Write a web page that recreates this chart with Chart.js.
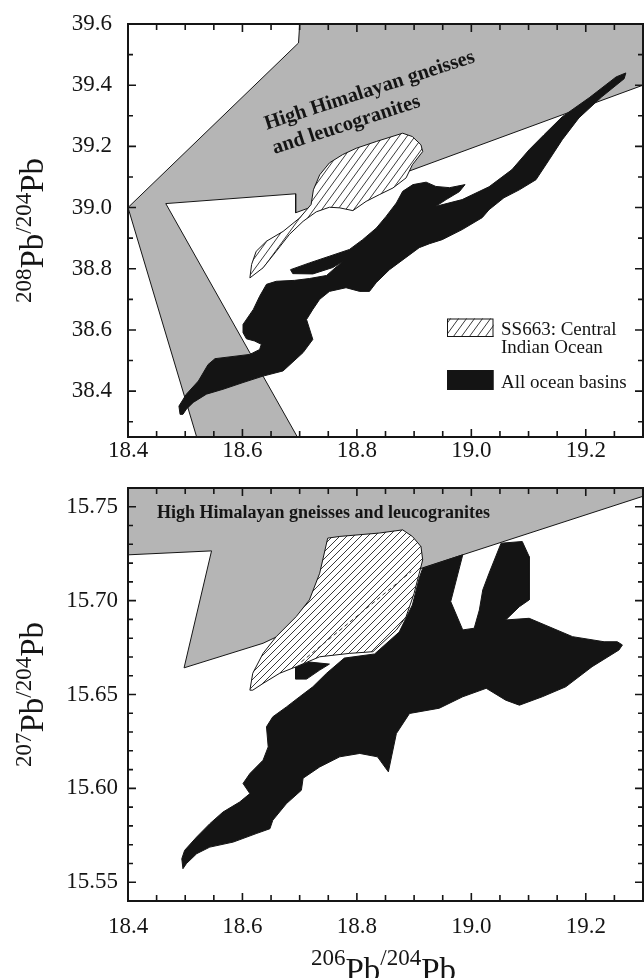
<!DOCTYPE html>
<html>
<head>
<meta charset="utf-8">
<script src="https://cdn.jsdelivr.net/npm/chart.js@4.4.1/dist/chart.umd.min.js"></script>
<style>
  html, body { margin: 0; padding: 0; background: #fff; width: 644px; height: 978px; overflow: hidden; }
  canvas { position: absolute; left: 0; }
  #pb208 { top: -8px; width: 644px; height: 488px; }
  #pb207 { top: 456px; width: 644px; height: 522px; }
</style>
</head>
<body>
<canvas id="pb208" width="644" height="488"></canvas>
<canvas id="pb207" width="644" height="522"></canvas>
<script>
const SERIF = '"Liberation Serif", "Times New Roman", Times, serif';
const INK = '#151515';

// ---- axis ticks ----
const pb206Ticks = [18.4, 18.6, 18.8, 19.0, 19.2];
const pb208Ticks = [38.4, 38.6, 38.8, 39.0, 39.2, 39.4, 39.6];
const pb207Ticks = [15.55, 15.60, 15.65, 15.70, 15.75];

// ---- 208Pb/204Pb vs 206Pb/204Pb : field outlines [206Pb/204Pb, 208Pb/204Pb] ----
const himalaya208 = [
  [18.700, 39.600], [18.698, 39.538], [18.400, 39.000], [18.520, 38.250], [18.696, 38.250],
  [18.466, 39.013], [18.693, 39.045], [18.693, 38.983], [19.300, 39.400], [19.300, 39.600]
];
const ss663_208 = [
  [18.613, 38.770], [18.616, 38.814], [18.624, 38.857], [18.642, 38.890], [18.671, 38.922],
  [18.700, 38.966], [18.720, 39.010], [18.724, 39.058], [18.735, 39.107], [18.752, 39.146],
  [18.775, 39.173], [18.799, 39.194], [18.834, 39.216], [18.880, 39.243], [18.897, 39.232],
  [18.912, 39.205], [18.915, 39.183], [18.897, 39.140], [18.886, 39.097], [18.863, 39.064],
  [18.839, 39.042], [18.816, 39.020], [18.793, 38.990], [18.770, 38.999], [18.752, 39.001],
  [18.729, 38.986], [18.706, 38.955], [18.682, 38.912], [18.659, 38.857], [18.636, 38.803]
];
const oceans208 = [
  [18.491, 38.324], [18.489, 38.351], [18.502, 38.390], [18.523, 38.433], [18.540, 38.487],
  [18.552, 38.506], [18.613, 38.520], [18.630, 38.536], [18.633, 38.553], [18.621, 38.564],
  [18.607, 38.571], [18.601, 38.591], [18.601, 38.618], [18.619, 38.667], [18.630, 38.710],
  [18.642, 38.749], [18.659, 38.759], [18.691, 38.762], [18.717, 38.768], [18.747, 38.778],
  [18.775, 38.824], [18.758, 38.804], [18.723, 38.783], [18.688, 38.784], [18.684, 38.797],
  [18.717, 38.819], [18.752, 38.841], [18.787, 38.863], [18.810, 38.895], [18.834, 38.933],
  [18.851, 38.971], [18.869, 39.015], [18.880, 39.053], [18.898, 39.075], [18.921, 39.083],
  [18.938, 39.069], [18.962, 39.065], [18.989, 39.075], [18.979, 39.052], [18.956, 39.026],
  [18.938, 39.004], [18.984, 39.026], [19.031, 39.068], [19.071, 39.124], [19.101, 39.189],
  [19.127, 39.238], [19.159, 39.297], [19.206, 39.359], [19.253, 39.427], [19.270, 39.440],
  [19.267, 39.421], [19.228, 39.362], [19.188, 39.293], [19.159, 39.222], [19.136, 39.156],
  [19.113, 39.091], [19.084, 39.058], [19.057, 39.032], [19.031, 38.993], [19.019, 38.967],
  [18.984, 38.928], [18.949, 38.895], [18.927, 38.882], [18.909, 38.869], [18.857, 38.797],
  [18.834, 38.755], [18.822, 38.726], [18.805, 38.726], [18.781, 38.738], [18.752, 38.726],
  [18.735, 38.700], [18.723, 38.667], [18.712, 38.634], [18.723, 38.569], [18.706, 38.526],
  [18.671, 38.466], [18.636, 38.449], [18.601, 38.428], [18.566, 38.406], [18.537, 38.390],
  [18.514, 38.363], [18.502, 38.341], [18.496, 38.324]
];

// ---- 207Pb/204Pb vs 206Pb/204Pb : field outlines [206Pb/204Pb, 207Pb/204Pb] ----
const himalaya207 = [
  [18.400, 15.7600], [18.400, 15.7244], [18.546, 15.7265], [18.498, 15.6642],
  [18.636, 15.6773], [18.914, 15.7174], [19.300, 15.7556], [19.300, 15.7600]
];
const ss663_207 = [
  [18.613, 15.6523], [18.618, 15.6613], [18.636, 15.6719], [18.659, 15.6808], [18.694, 15.6915],
  [18.717, 15.7004], [18.735, 15.7146], [18.749, 15.7333], [18.770, 15.7342], [18.839, 15.7360],
  [18.880, 15.7377], [18.897, 15.7342], [18.912, 15.7288], [18.915, 15.7217], [18.909, 15.7146],
  [18.900, 15.7039], [18.886, 15.6915], [18.869, 15.6844], [18.828, 15.6728], [18.787, 15.6719],
  [18.735, 15.6701], [18.694, 15.6648], [18.665, 15.6613], [18.636, 15.6559], [18.618, 15.6523]
];
const oceans207 = [
  [18.496, 15.5572], [18.494, 15.5625], [18.499, 15.5670], [18.520, 15.5741], [18.543, 15.5812],
  [18.566, 15.5874], [18.595, 15.5927], [18.613, 15.5972], [18.601, 15.6026], [18.613, 15.6079],
  [18.636, 15.6150], [18.645, 15.6221], [18.642, 15.6328], [18.653, 15.6381], [18.677, 15.6434],
  [18.700, 15.6488], [18.723, 15.6541], [18.747, 15.6613], [18.778, 15.6694], [18.831, 15.6716],
  [18.874, 15.6833], [18.897, 15.6977], [18.909, 15.7121], [18.915, 15.7173], [18.985, 15.7244],
  [18.964, 15.6995], [18.985, 15.6844], [19.005, 15.6853], [19.014, 15.6950], [19.020, 15.7057],
  [19.031, 15.7146], [19.052, 15.7306], [19.089, 15.7315], [19.101, 15.7235], [19.101, 15.7004],
  [19.084, 15.6968], [19.060, 15.6897], [19.101, 15.6906], [19.177, 15.6808], [19.232, 15.6781],
  [19.255, 15.6781], [19.264, 15.6764], [19.258, 15.6737], [19.211, 15.6648], [19.165, 15.6541],
  [19.124, 15.6488], [19.084, 15.6443], [19.060, 15.6470], [19.026, 15.6533], [18.985, 15.6488],
  [18.944, 15.6427], [18.892, 15.6399], [18.869, 15.6292], [18.855, 15.6088], [18.836, 15.6168],
  [18.805, 15.6186], [18.770, 15.6168], [18.735, 15.6114], [18.706, 15.6054], [18.703, 15.5990],
  [18.677, 15.5919], [18.653, 15.5830], [18.648, 15.5785], [18.624, 15.5759], [18.584, 15.5714],
  [18.543, 15.5687], [18.520, 15.5652], [18.502, 15.5599]
];
const oceans207Patch = [
  [18.693, 15.6646], [18.693, 15.6582], [18.712, 15.6582], [18.735, 15.6630], [18.752, 15.6662], [18.717, 15.6673]
];
const ss663Trend207 = [[18.703, 15.6674], [18.895, 15.7155]];

// ---- helpers ----
function closedPath(pts) {
  const d = pts.map(p => ({ x: p[0], y: p[1] }));
  d.push({ x: pts[0][0], y: pts[0][1] });
  return d;
}

function hatchPattern(w, h, color) {
  const c = document.createElement('canvas');
  c.width = w; c.height = h;
  const g = c.getContext('2d');
  g.fillStyle = '#fff';
  g.fillRect(0, 0, w, h);
  g.strokeStyle = color;
  g.lineWidth = 1;
  g.beginPath();
  for (const dx of [-w, 0, w]) { g.moveTo(dx - w, 2 * h); g.lineTo(dx + 2 * w, -h); }
  g.stroke();
  return g.createPattern(c, 'repeat');
}

function field(label, pts, fillStyle, stroke, width, order, extra) {
  return Object.assign({
    label, data: closedPath(pts), backgroundColor: fillStyle, borderColor: stroke,
    borderWidth: width, fill: 'shape', pointRadius: 0, pointHoverRadius: 0, tension: 0, order
  }, extra || {});
}

function steps(min, max, step) {
  const out = [];
  const k0 = Math.ceil(min / step - 1e-6), k1 = Math.floor(max / step + 1e-6);
  for (let k = k0; k <= k1; k++) out.push(+(k * step).toFixed(6));
  return out;
}

function isOn(v, list) { return list.some(t => Math.abs(t - v) < 1e-6); }

// inward ticks on all four sides plus the closed frame
function frameTicks(xStep, yStep, xMajor, yMajor) {
  return {
    id: 'frameTicks',
    afterDatasetsDraw(chart) {
      const { ctx, chartArea: a, scales: { x, y } } = chart;
      ctx.save();
      ctx.strokeStyle = INK;
      ctx.lineWidth = 1.6;
      ctx.beginPath();
      for (const v of steps(x.min, x.max, xStep)) {
        const p = x.getPixelForValue(v), len = isOn(v, xMajor) ? 8 : 6;
        ctx.moveTo(p, a.bottom); ctx.lineTo(p, a.bottom - len);
        ctx.moveTo(p, a.top); ctx.lineTo(p, a.top + len);
      }
      for (const v of steps(y.min, y.max, yStep)) {
        const p = y.getPixelForValue(v), len = isOn(v, yMajor) ? 8 : 5;
        ctx.moveTo(a.left, p); ctx.lineTo(a.left + len, p);
        ctx.moveTo(a.right, p); ctx.lineTo(a.right - len, p);
      }
      ctx.stroke();
      ctx.lineWidth = 2;
      ctx.strokeRect(a.left, a.top, a.right - a.left, a.bottom - a.top);
      ctx.restore();
    }
  };
}

function isotopeTitle(ctx, supA, supB, cx, cy, vertical, raise) {
  const big = '33px ' + SERIF, small = '23px ' + SERIF;
  const parts = [[supA, small, raise], ['Pb', big, 0], ['/' + supB, small, raise], ['Pb', big, 0]];
  ctx.save();
  ctx.fillStyle = INK;
  ctx.textAlign = 'left';
  ctx.textBaseline = 'alphabetic';
  let total = 0;
  for (const p of parts) { ctx.font = p[1]; total += ctx.measureText(p[0]).width; }
  ctx.translate(cx, cy);
  if (vertical) ctx.rotate(-Math.PI / 2);
  let x = -total / 2;
  for (const p of parts) { ctx.font = p[1]; ctx.fillText(p[0], x, -p[2]); x += ctx.measureText(p[0]).width; }
  ctx.restore();
}

function notePlugin(lines, at, angleDeg, font, lineHeight) {
  return {
    id: 'fieldNote',
    afterDatasetsDraw(chart) {
      const { ctx, scales: { x, y } } = chart;
      ctx.save();
      ctx.translate(x.getPixelForValue(at[0]), y.getPixelForValue(at[1]));
      ctx.rotate(angleDeg * Math.PI / 180);
      ctx.font = font;
      ctx.fillStyle = INK;
      ctx.textAlign = 'left';
      ctx.textBaseline = 'alphabetic';
      lines.forEach((t, i) => ctx.fillText(t, 0, i * lineHeight));
      ctx.restore();
    }
  };
}

function axisTitlePlugin(ySup, xTitle) {
  return {
    id: 'axisTitles',
    afterDraw(chart) {
      const { ctx, chartArea: a } = chart;
      isotopeTitle(ctx, ySup, '204', 43, (a.top + a.bottom) / 2, true, 12);
      if (xTitle) isotopeTitle(ctx, '206', '204', (a.left + a.right) / 2 - 2, chart.height + 3, false, 16);
    }
  };
}

const legendPlugin = {
  id: 'boxLegend',
  afterDatasetsDraw(chart) {
    const { ctx, chartArea: a } = chart;
    const entries = chart.data.datasets.filter(d => d.legendLines);
    const boxX = a.left + 319, textX = a.left + 373;
    const rows = [{ top: a.top + 294.5, h: 18.5, base: 311 }, { top: a.top + 346, h: 20, base: 364 }];
    ctx.save();
    entries.forEach((d, i) => {
      const r = rows[i];
      ctx.fillStyle = d.backgroundColor;
      ctx.fillRect(boxX, r.top, 46.5, r.h);
      ctx.lineWidth = 1;
      ctx.strokeStyle = INK;
      ctx.strokeRect(boxX + 0.5, r.top + 0.5, 45.5, r.h - 1);
      ctx.fillStyle = INK;
      ctx.font = '19px ' + SERIF;
      ctx.textAlign = 'left';
      ctx.textBaseline = 'alphabetic';
      d.legendLines.forEach((t, j) => ctx.fillText(t, textX, a.top + r.base + j * 18));
    });
    ctx.restore();
  }
};

function scalesFor(yMin, yMax, yTicks, yDigits, yPad, xPad, xHeight) {
  const tickFont = { family: SERIF, size: 23 };
  return {
    x: {
      type: 'linear', min: 18.4, max: 19.3,
      afterBuildTicks: s => { s.ticks = pb206Ticks.map(v => ({ value: v })); },
      afterFit: s => { s.height = xHeight; },
      ticks: { font: tickFont, color: INK, padding: xPad, maxRotation: 0, autoSkip: false,
               callback: v => Number(v).toFixed(1) },
      grid: { display: false, drawTicks: false },
      border: { display: false }
    },
    y: {
      type: 'linear', min: yMin, max: yMax,
      afterBuildTicks: s => { s.ticks = yTicks.map(v => ({ value: v })); },
      afterFit: s => { s.width = 128; },
      ticks: { font: tickFont, color: INK, padding: yPad, autoSkip: false,
               callback: v => Number(v).toFixed(yDigits) },
      grid: { display: false, drawTicks: false },
      border: { display: false }
    }
  };
}

const baseOptions = {
  responsive: false,
  animation: false,
  events: [],
  plugins: { legend: { display: false }, tooltip: { enabled: false } },
  elements: { line: { borderJoinStyle: 'miter' } }
};

// ---- upper panel: 208Pb/204Pb ----
const hatch208 = hatchPattern(8, 11, '#3a3a3a');
new Chart(document.getElementById('pb208'), {
  type: 'line',
  data: {
    datasets: [
      field('SS663: Central Indian Ocean', ss663_208, hatch208, INK, 1, 1,
            { legendLines: ['SS663: Central', 'Indian Ocean'] }),
      field('All ocean basins', oceans208, '#141414', '#141414', 1, 2,
            { legendLines: ['All ocean basins'] }),
      field('High Himalayan gneisses and leucogranites', himalaya208, '#b5b5b5', INK, 1, 3)
    ]
  },
  options: Object.assign({}, baseOptions, {
    layout: { padding: { top: 32, right: 1, left: 0, bottom: 0 } },
    scales: scalesFor(38.25, 39.6, pb208Ticks, 1, 16, 0, 43)
  }),
  plugins: [
    frameTicks(0.05, 0.1, pb206Ticks, pb208Ticks),
    notePlugin(['High Himalayan gneisses', 'and leucogranites'], [18.6424, 39.2542], -18,
               'bold 20.5px ' + SERIF, 25.5),
    legendPlugin,
    axisTitlePlugin('208', false)
  ]
});

// ---- lower panel: 207Pb/204Pb ----
const hatch207 = hatchPattern(7, 7, '#3a3a3a');
new Chart(document.getElementById('pb207'), {
  type: 'line',
  data: {
    datasets: [
      { label: 'SS663 trend', data: ss663Trend207.map(p => ({ x: p[0], y: p[1] })),
        borderColor: '#333', borderWidth: 1, borderDash: [4, 3], fill: false,
        pointRadius: 0, pointHoverRadius: 0, tension: 0, order: 0 },
      field('SS663: Central Indian Ocean', ss663_207, hatch207, INK, 1, 1),
      field('All ocean basins', oceans207, '#141414', '#141414', 1, 2),
      field('All ocean basins (patch)', oceans207Patch, '#141414', '#141414', 1, 2),
      field('High Himalayan gneisses and leucogranites', himalaya207, '#b5b5b5', INK, 1, 3)
    ]
  },
  options: Object.assign({}, baseOptions, {
    layout: { padding: { top: 32, right: 1, left: 0, bottom: 0 } },
    scales: scalesFor(15.54, 15.76, pb207Ticks, 2, 10, 12, 77)
  }),
  plugins: [
    frameTicks(0.05, 0.01, pb206Ticks, pb207Ticks),
    notePlugin(['High Himalayan gneisses and leucogranites'], [18.4506, 15.7441], 0,
               'bold 18px ' + SERIF, 20),
    axisTitlePlugin('207', true)
  ]
});
</script>
</body>
</html>
